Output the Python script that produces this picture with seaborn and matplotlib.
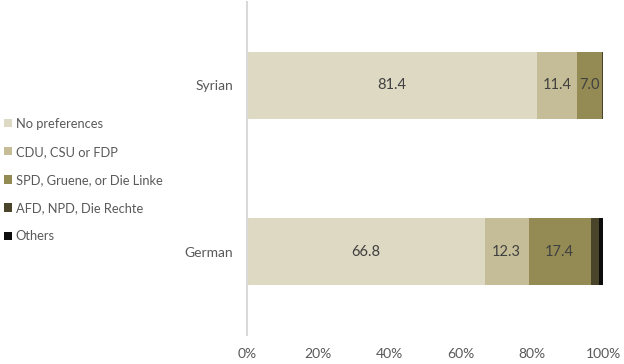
import matplotlib
matplotlib.use("Agg")
import matplotlib.pyplot as plt
import seaborn as sns
import numpy as np
import pandas as pd
from matplotlib.patches import Patch

groups = ["Syrian", "German"]
series = ["No preferences", "CDU, CSU or FDP", "SPD, Gruene, or Die Linke",
          "AFD, NPD, Die Rechte", "Others"]
no_pref = [81.4, 66.8]
cdu = [11.4, 12.3]
spd = [7.0, 17.4]
afd = [0.1, 2.5]
others = [0.1, 1.0]
colors = ["#DDD9C3", "#C4BD97", "#948A54", "#4A452A", "#0D0D0D"]
xticks = [0, 20, 40, 60, 80, 100]
xticklabels = ["0%", "20%", "40%", "60%", "80%", "100%"]

sns.set_theme(style="white")
plt.rcParams["font.family"] = ["Lato", "DejaVu Sans"]

vals = np.array([no_pref, cdu, spd, afd, others])
cum = np.cumsum(vals, axis=0)

fig = plt.figure(figsize=(6.24, 3.64), dpi=100)
ax = fig.add_axes([247/624, 1-335/364, (603-247)/624, 333/364])

for i in range(len(series) - 1, -1, -1):
    df = pd.DataFrame({"group": groups, "value": cum[i]})
    sns.barplot(data=df, x="value", y="group", orient="h", color=colors[i],
                width=0.4, ax=ax, saturation=1, linewidth=0)

for i in range(3):
    for j in range(len(groups)):
        left = cum[i][j] - vals[i][j]
        ax.text(left + vals[i][j] / 2, j, f"{vals[i][j]:.1f}", ha="center", va="center",
                fontsize=10.5, color="#404040")

ax.set_xlim(0, 100)
ax.set_ylim(1.5, -0.5)
ax.set_xticks(xticks)
ax.set_xticklabels(xticklabels, fontsize=10, color="#595959")
ax.set_xlabel("")
ax.set_ylabel("")
ax.tick_params(axis="y", length=0, pad=10, labelsize=10, labelcolor="#595959")
ax.tick_params(axis="x", length=0, pad=9)
for s in ["top", "right", "bottom"]:
    ax.spines[s].set_visible(False)
ax.spines["left"].set_color("#D9D9D9")
ax.spines["left"].set_linewidth(1.5)

handles = [Patch(facecolor=c, edgecolor="none", label=l) for c, l in zip(colors, series)]
fig.legend(handles=handles, loc="center left", bbox_to_anchor=(0.0, 1-180/364),
           frameon=False, fontsize=9.3, labelspacing=1.25, handlelength=0.6,
           handleheight=0.6, handletextpad=0.3, borderpad=0, borderaxespad=0.3,
           labelcolor="#595959")

fig.savefig("out.png", dpi=100)
